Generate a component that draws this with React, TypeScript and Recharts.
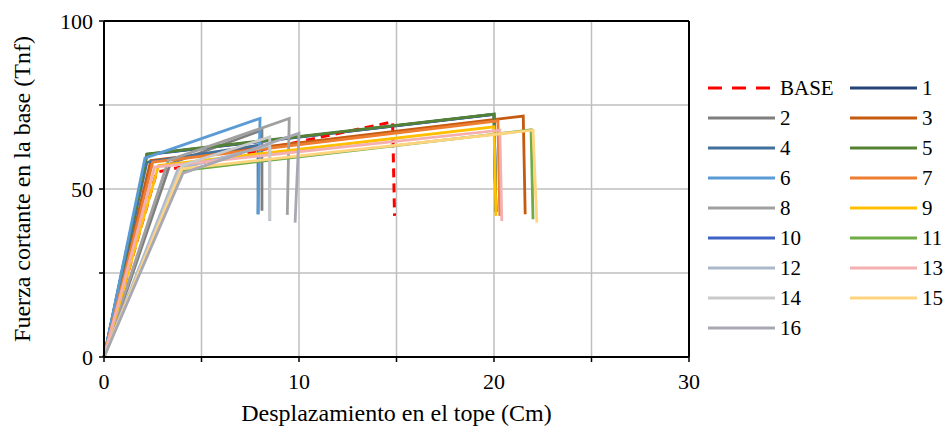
import React from 'react';
import {
  LineChart,
  Line,
  XAxis,
  YAxis,
  CartesianGrid,
  Legend,
  ReferenceLine,
} from 'recharts';

// pushover curves: [displacement (cm), base shear (tnf)]
const base = [[0, 0], [2.7, 55], [14.8, 70], [14.9, 42]];
const s1 = [[0, 0], [2.2, 60.2], [20.0, 72.2], [20.1, 43.2]];
const s2 = [[0, 0], [3.4, 57.5], [8.1, 67.5], [8.1, 43.5]];
const s3 = [[0, 0], [2.4, 58.5], [21.5, 71.7], [21.6, 42.5]];
const s4 = [[0, 0], [2.2, 58], [7.9, 63], [7.9, 42.5]];
const s5 = [[0, 0], [2.2, 60.4], [20.0, 72.3], [20.1, 43.2]];
const s6 = [[0, 0], [2.1, 59.2], [8.0, 71], [7.9, 42.5]];
const s7 = [[0, 0], [2.5, 58], [20.2, 70.3], [20.3, 42]];
const s8 = [[0, 0], [3.3, 58.5], [9.5, 71], [9.4, 42.3]];
const s9 = [[0, 0], [2.8, 57], [20.0, 68.5], [20.1, 42]];
const s10 = [[0, 0], [2.2, 60.3], [20.0, 72.2], [20.1, 43.2]];
const s11 = [[0, 0], [4.0, 55.5], [21.9, 67.6], [22.0, 41]];
const s12 = [[0, 0], [3.8, 56], [8.5, 63], [8.5, 40.5]];
const s13 = [[0, 0], [2.6, 56.5], [20.3, 67.5], [20.4, 40.5]];
const s14 = [[0, 0], [4.0, 57], [8.5, 65.5], [8.5, 40.8]];
const s15 = [[0, 0], [4.0, 56], [22.0, 67.5], [22.2, 40]];
const s16 = [[0, 0], [4.05, 54.7], [10.0, 66.6], [9.8, 40]];

const seriesNames = ['BASE', '1', '2', '3', '4', '5', '6', '7', '8', '9', '10', '11', '12', '13', '14', '15', '16'];
const seriesPoints = [base, s1, s2, s3, s4, s5, s6, s7, s8, s9, s10, s11, s12, s13, s14, s15, s16];
const seriesColors = [
  '#FF0000', '#264478', '#7F7F7F', '#C55A11', '#41719C', '#548235', '#5B9BD5', '#ED7D31',
  '#A0A0A0', '#FFC000', '#3F62C4', '#70AD47', '#ADB9CA', '#F4B0B0', '#CACACA', '#FFD47F', '#A8A8B4',
];
// series 1 and 10 sit underneath the others in the plot
const drawOrder = ['1', '10', 'BASE', '2', '3', '4', '5', '6', '7', '8', '9', '11', '12', '13', '14', '15', '16'];

const xTicks = [0, 5, 10, 15, 20, 25, 30];
const xLabels = [0, 10, 20, 30];
const yTicks = [0, 25, 50, 75, 100];
const yLabels = [0, 50, 100];

const FONT = "'Liberation Serif', 'Times New Roman', Tinos, 'DejaVu Serif', serif";

const series = seriesNames.map((name, i) => ({
  name,
  color: seriesColors[i],
  dashed: name === 'BASE',
  data: seriesPoints[i].map(([x, y]) => ({ x, y })),
}));

function renderLegend() {
  return (
    <div
      style={{
        width: 238,
        display: 'grid',
        gridTemplateColumns: '142px 96px',
        fontFamily: FONT,
        fontSize: 21,
        color: '#000',
      }}
    >
      {series.map((s) => (
        <div key={s.name} style={{ height: 30, display: 'flex', alignItems: 'center' }}>
          <svg width={72} height={30}>
            <line
              x1={3}
              x2={70}
              y1={15}
              y2={15}
              stroke={s.color}
              strokeWidth={3}
              strokeDasharray={s.dashed ? '14 10' : undefined}
            />
          </svg>
          <span style={{ marginLeft: 3 }}>{s.name}</span>
        </div>
      ))}
    </div>
  );
}

export default function App() {
  return (
    <div style={{ position: 'absolute', left: 0, top: 0, background: '#fff', fontFamily: FONT }}>
      <LineChart
        width={943}
        height={426}
        margin={{ top: 21, right: 16, bottom: 9, left: 0 }}
        style={{ fontFamily: FONT }}
      >
        <CartesianGrid stroke="#BFBFBF" strokeWidth={1.5} />
        <XAxis
          type="number"
          dataKey="x"
          domain={[0, 30]}
          ticks={xTicks}
          interval={0}
          height={60}
          tickSize={5}
          tickMargin={11}
          axisLine={{ stroke: '#000', strokeWidth: 2 }}
          tickLine={{ stroke: '#000', strokeWidth: 1.5 }}
          tick={{ fontSize: 22, fill: '#000', fontFamily: FONT }}
          tickFormatter={(v: number) => (xLabels.includes(v) ? String(v) : '')}
          label={{
            content: (props: any) => {
              const vb = props.viewBox;
              return (
                <text
                  x={vb.x + vb.width / 2}
                  y={421}
                  textAnchor="middle"
                  style={{ fontFamily: FONT, fontSize: 24 }}
                  fill="#000"
                >
                  Desplazamiento en el tope (Cm)
                </text>
              );
            },
          }}
        />
        <YAxis
          type="number"
          domain={[0, 100]}
          ticks={yTicks}
          interval={0}
          width={104}
          tickSize={5}
          tickMargin={6}
          axisLine={{ stroke: '#000', strokeWidth: 2 }}
          tickLine={{ stroke: '#000', strokeWidth: 1.5 }}
          tick={{ fontSize: 22, fill: '#000', fontFamily: FONT }}
          tickFormatter={(v: number) => (yLabels.includes(v) ? String(v) : '')}
          label={{
            content: (props: any) => {
              const vb = props.viewBox;
              const cx = vb.x + 22;
              const cy = vb.y + vb.height / 2;
              return (
                <text
                  x={cx}
                  y={cy}
                  transform={`rotate(-90 ${cx} ${cy})`}
                  textAnchor="middle"
                  dominantBaseline="central"
                  style={{ fontFamily: FONT, fontSize: 24 }}
                  fill="#000"
                >
                  Fuerza cortante en la base (Tnf)
                </text>
              );
            },
          }}
        />
        <ReferenceLine y={100} stroke="#000" strokeWidth={2} />
        <ReferenceLine x={30} stroke="#000" strokeWidth={2} />
        <Legend
          layout="vertical"
          align="right"
          verticalAlign="top"
          content={renderLegend}
          wrapperStyle={{ left: 705, top: 73, right: 'auto', width: 238 }}
        />
        {drawOrder.map((name) => {
          const s = series.find((d) => d.name === name)!;
          return (
            <Line
              key={s.name}
              data={s.data}
              dataKey="y"
              name={s.name}
              type="linear"
              stroke={s.color}
              strokeWidth={s.dashed ? 3 : 2.8}
              strokeDasharray={s.dashed ? '9 6' : undefined}
              dot={false}
              activeDot={false}
              isAnimationActive={false}
            />
          );
        })}
      </LineChart>
    </div>
  );
}
